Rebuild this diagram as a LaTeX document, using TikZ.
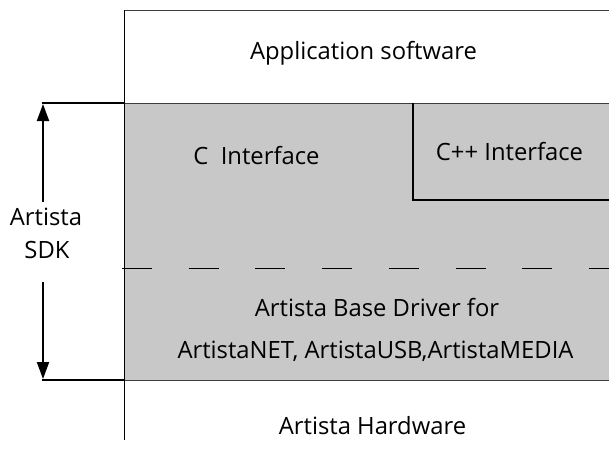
\documentclass[tikz,border=0pt]{standalone}
\usepackage{fontspec}
\setmainfont{Open Sans}
\usetikzlibrary{arrows.meta}
\definecolor{layergray}{RGB}{200,200,201}
\definecolor{edgegray}{RGB}{60,60,60}
\tikzset{
  lbl/.style={font=\fontsize{23.8}{27}\selectfont, text=black, inner sep=0pt, anchor=base},
  thinline/.style={draw=edgegray, line width=0.9pt},
  thick2/.style={draw=black, line width=2pt},
  sdkarrow/.style={draw=black, line width=2pt, -{Triangle[length=17pt,width=12pt]}},
}
\begin{document}
\begin{tikzpicture}[x=1pt,y=-1pt]
\useasboundingbox (0,0) rectangle (609,469);
% gray SDK region
\fill[layergray] (124,103) rectangle (609,380);
% frame lines
\draw[thinline] (124,10) -- (609,10);
\draw[thinline] (124,103) -- (609,103);
\draw[thinline] (124,380) -- (609,380);
\draw[draw=black, line width=1pt] (124,10) -- (124,440);
% dashed separator
\draw[draw=black, line width=0.9pt, dash pattern=on 30pt off 36.7pt] (122,268) -- (609,268);
% C++ box lines
\draw[draw=black, line width=1.6pt] (413,103) -- (413,200) -- (609,200);
% SDK bracket lines
\coordinate (ttop) at (42,103);
\coordinate (tbot) at (42,380);
\draw[thick2] (ttop) -- (124,103);
\draw[thick2] (tbot) -- (124,380);
% texts
\node[lbl] (app) at (363.5,59) {Application software};
\node[lbl] (cif) at (256.5,164) {C\ \ Interface};
\node[lbl] (cpp) at (509.5,160) {C++ Interface};
\node[lbl] (drv1) at (377,316) {Artista Base Driver for};
\node[lbl] (drv2) at (375.5,358) {ArtistaNET, ArtistaUSB,ArtistaMEDIA};
\node[lbl] (hw) at (372.5,434) {Artista Hardware};
\node[lbl] (sdk1) at (46,225) {Artista};
\node[lbl] (sdk2) at (47,258) {SDK};
% SDK arrows
\coordinate (aupstart) at (43,202);
\coordinate (adnstart) at (43,282);
\draw[sdkarrow] (aupstart) -- (43,104);
\draw[sdkarrow] (adnstart) -- (43,379);
\end{tikzpicture}
\end{document}
